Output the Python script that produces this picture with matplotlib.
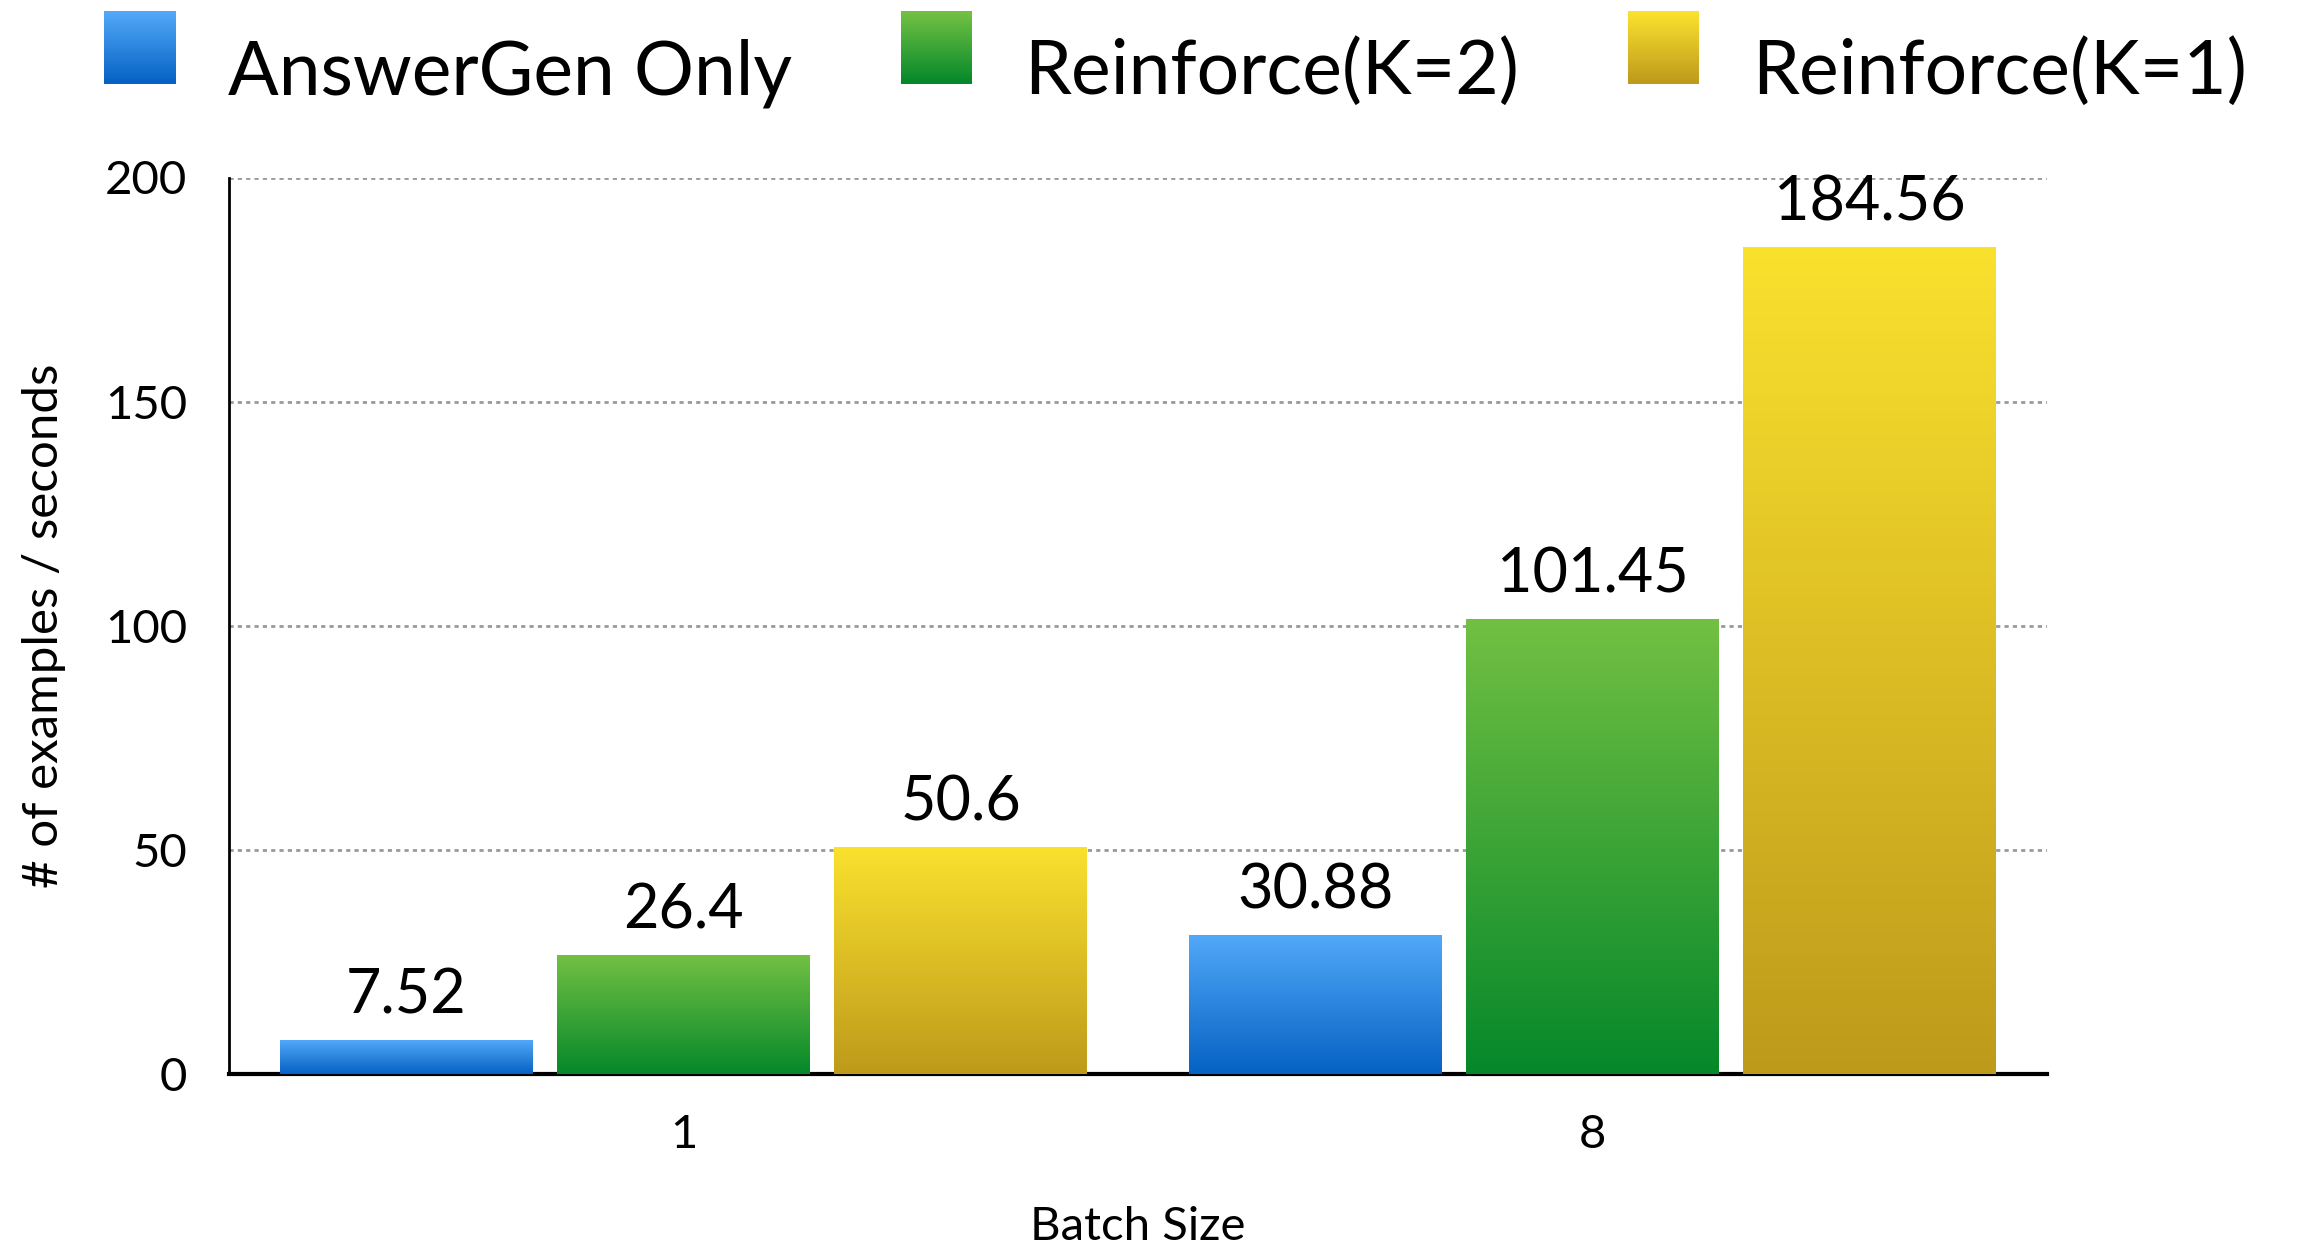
import numpy as np
import matplotlib
matplotlib.use("Agg")
import matplotlib.pyplot as plt
from matplotlib.patches import Rectangle
from matplotlib.legend_handler import HandlerBase
from matplotlib.colors import LinearSegmentedColormap

batch_sizes = ["1", "8"]
series = ["AnswerGen Only", "Reinforce(K=2)", "Reinforce(K=1)"]
answergen = [7.52, 30.88]
reinforce_k2 = [26.4, 101.45]
reinforce_k1 = [50.6, 184.56]
labels = [["7.52", "30.88"], ["26.4", "101.45"], ["50.6", "184.56"]]

# (top colour, bottom colour) for each series
grads = [("#52a8f8", "#0562c4"), ("#72c043", "#05882a"), ("#fae12e", "#be9a1b")]

plt.rcParams['font.family'] = ['Lato', 'DejaVu Sans']


class GradHandler(HandlerBase):
    def __init__(self, top, bot):
        super().__init__()
        self.top, self.bot = top, bot

    def create_artists(self, legend, orig, x0, y0, w, h, fs, trans):
        cmap = LinearSegmentedColormap.from_list("g", [self.bot, self.top])
        n = 30
        arts = []
        for i in range(n):
            r = Rectangle((x0, y0 + h * i / n), w, h / n + 0.5, color=cmap(i / (n - 1)),
                          lw=0, transform=trans)
            arts.append(r)
        return arts


fig = plt.figure(figsize=(23.04, 12.5), dpi=100)
ax = fig.add_axes([0.0994, 0.141, 0.789, 0.717])

x = np.arange(len(batch_sizes))
step = 0.305
width = 0.278
values = [answergen, reinforce_k2, reinforce_k1]

for k, vals in enumerate(values):
    top, bot = grads[k]
    cmap = LinearSegmentedColormap.from_list("g", [bot, top])
    bars = ax.bar(x + (k - 1) * step, vals, width, color="none", lw=0, zorder=3)
    for b, v, lab in zip(bars, vals, labels[k]):
        bx, bw = b.get_x(), b.get_width()
        grad = np.linspace(0, 1, 256).reshape(-1, 1)
        im = ax.imshow(grad, cmap=cmap, origin="lower", aspect="auto",
                       extent=[bx, bx + bw, 0, v], zorder=3)
        im.set_clip_path(b)
        ax.text(bx + bw / 2, v + 3.5, lab, ha="center", va="bottom", fontsize=44)

ax.set_xlim(-0.5, 1.5)
ax.set_ylim(0, 200)
ax.set_yticks([0, 50, 100, 150, 200])
ax.set_xticks(x)
ax.set_xticklabels(batch_sizes)
ax.tick_params(length=0, labelsize=34)
ax.tick_params(axis="y", pad=30)
ax.tick_params(axis="x", pad=29)
ax.yaxis.grid(True, ls=(0, (1.5, 1.5)), color="#999999", lw=2)
ax.set_axisbelow(True)
for s in ["top", "right"]:
    ax.spines[s].set_visible(False)
ax.spines["left"].set_linewidth(2)
ax.spines["bottom"].set_linewidth(3)
ax.set_xlabel("Batch Size", fontsize=34, labelpad=36)
ax.set_ylabel("# of examples / seconds", fontsize=35.5, labelpad=28)

handles = [Rectangle((0, 0), 1, 1) for _ in series]
fig.legend(handles, series, loc="upper left", bbox_to_anchor=(0.029, 1.004), ncol=3,
           frameon=False, fontsize=54, handlelength=0.95, handleheight=1.1,
           handletextpad=0.7, columnspacing=1.45, borderaxespad=0.1,
           handler_map={h: GradHandler(*g) for h, g in zip(handles, grads)})

fig.savefig("out.png", dpi=100)
